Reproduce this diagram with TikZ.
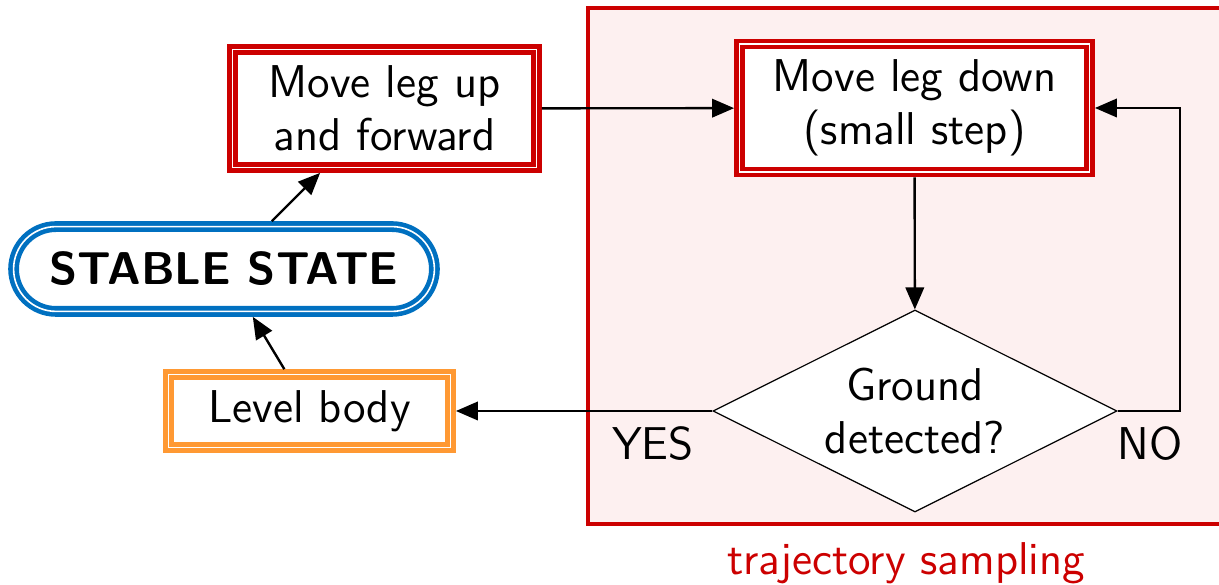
\documentclass[tikz,border=0pt]{standalone}
\usetikzlibrary{shapes.geometric,shapes.misc,arrows.meta}
\definecolor{myred}{HTML}{CC0000}
\definecolor{myblue}{HTML}{0070C0}
\definecolor{myorange}{HTML}{FF9933}
\definecolor{mypink}{HTML}{FDF0F0}
\begin{document}
\begin{tikzpicture}[x=0.25pt,y=-0.25pt,
  font=\fontsize{11.5}{13.3}\selectfont\sffamily,
  dbl/.style={line width=1.15pt,double=white,double distance=0.4pt,fill=white,
    inner sep=0pt,align=center,outer sep=1.35pt},
  redbox/.style={dbl,draw=myred,rectangle},
  bluebox/.style={dbl,draw=myblue,rounded rectangle},
  orangebox/.style={dbl,draw=myorange,rectangle},
  decision/.style={diamond,aspect=2,draw=black,line width=0.3pt,fill=white,inner sep=0pt,align=center},
  arr/.style={line width=0.6pt,-{Triangle[length=5.5pt,width=4.6pt]}},
  lbl/.style={anchor=base,inner sep=0pt}]
\useasboundingbox (0,0) rectangle (1219,585);
% region
\draw[myred,line width=1pt,fill=mypink] (588,8) rectangle (1230,524);
\node[lbl,text=myred] (traj) at (906,575) {trajectory sampling};
% nodes
\node[redbox,minimum width=76pt,minimum height=29.5pt] (up) at (384.5,108.5) {Move leg up\\and forward};
\node[redbox,minimum width=87.5pt,minimum height=32pt] (down) at (914.5,108) {Move leg down\\(small step)};
\node[bluebox,minimum width=105.2pt,minimum height=21.2pt] (stable) at (224,269) {\bfseries STABLE STATE};
\node[orangebox,minimum width=70.5pt,minimum height=18.2pt] (level) at (309.5,411) {Level body};
\node[decision,minimum width=101pt,minimum height=50.5pt] (dia) at (915,411) {Ground\\detected?};
\node[lbl] (yes) at (653,460) {YES};
\node[lbl] (no) at (1150,460) {NO};
\coordinate (loop) at (1180,411);
% connectors
\draw[arr] (stable) -- (up);
\draw[arr] (level) -- (stable);
\draw[arr] (up) -- (down);
\draw[arr] (down) -- (dia);
\draw[arr] (dia) -- (level);
\draw[arr] (dia.east) -- (loop) |- (down.east);
\end{tikzpicture}
\end{document}
